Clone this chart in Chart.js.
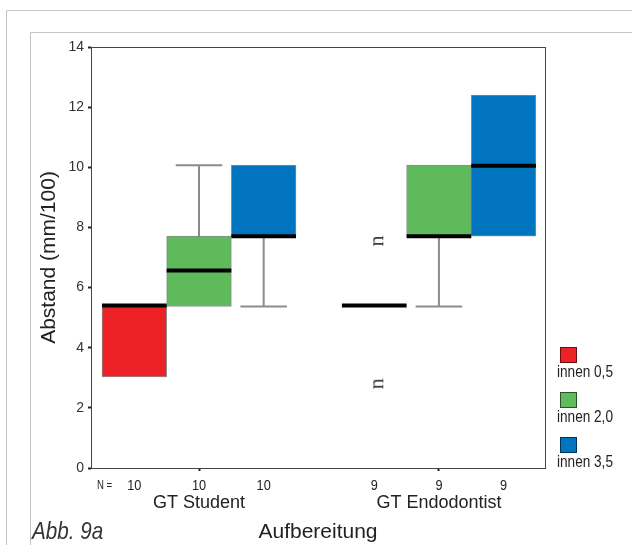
<!DOCTYPE html>
<html>
<head>
<meta charset="utf-8">
<script src="https://cdn.jsdelivr.net/npm/chart.js@4.4.1/dist/chart.umd.min.js"></script>
<style>
body { margin: 0; background: #fff; }
canvas { display: block; }
</style>
</head>
<body>
<canvas id="chart" width="632" height="545"></canvas>
<script>
// data
var groups = ['GT Student', 'GT Endodontist'];
var series = ['innen 0,5', 'innen 2,0', 'innen 3,5'];
var colors = ['#ED2226', '#5EBA5A', '#0074BF'];
var counts = [[10, 10, 10], [9, 9, 9]];           // per group, per series
var q1      = [[3.03, 5.4], [5.37, 7.71], [7.71, 7.71]];   // per series, per group
var q3      = [[5.4, 5.4], [7.71, 10.07], [10.07, 12.4]];
var median  = [[5.4, 5.4], [6.57, 7.71], [7.71, 10.05]];
var whiskLo = [[3.03, 5.4], [5.37, 5.37], [5.37, 7.71]];
var whiskHi = [[5.4, 5.4], [10.07, 10.07], [10.07, 12.4]];
var outlierGroup = [1, 1];
var outlierSeries = [0, 0];
var outlierValues = [7.55, 2.8];
var yTicks = [0, 2, 4, 6, 8, 10, 12, 14];

var SANS = "'Liberation Sans', Arial, sans-serif";
var GROUP_STEP = 3.71;

function pos(g, s) { return g * GROUP_STEP + s; }
function groupCenter(g) { return pos(g, (series.length - 1) / 2); }

// condensed text: Liberation Sans squeezed horizontally
function narrowText(ctx, text, x, y, font, squeeze, align) {
  ctx.save();
  ctx.font = font;
  ctx.textAlign = align || 'left';
  ctx.translate(x, y);
  ctx.scale(squeeze, 1);
  ctx.fillText(text, 0, 0);
  ctx.restore();
}

function outlierGlyph() {
  var c = document.createElement('canvas');
  c.width = 28; c.height = 20;
  var g = c.getContext('2d');
  g.translate(18, 10);
  g.rotate(-Math.PI / 2);
  g.font = "22px 'Liberation Serif', 'DejaVu Serif', serif";
  g.fillStyle = '#3a3a3a';
  g.textAlign = 'center';
  g.textBaseline = 'alphabetic';
  g.fillText('n', 0, 5);
  return c;
}

var datasets = series.map(function (name, s) {
  return {
    type: 'bar',
    label: name,
    data: groups.map(function (gName, g) {
      return { x: pos(g, s), y: [q1[s][g], q3[s][g]] };
    }),
    backgroundColor: colors[s],
    borderColor: 'rgba(0,0,0,0.45)',
    borderWidth: 1,
    borderSkipped: false,
    grouped: false,
    barPercentage: 1,
    categoryPercentage: 1
  };
});
datasets.push({
  type: 'scatter',
  label: 'Ausreißer',
  data: outlierValues.map(function (v, i) {
    return { x: pos(outlierGroup[i], outlierSeries[i]), y: v };
  }),
  pointStyle: outlierGlyph(),
  pointRadius: 6,
  showLine: false
});

var boxPlot = {
  id: 'boxplot',
  beforeDraw: function (chart) {
    var ctx = chart.ctx;
    ctx.save();
    ctx.strokeStyle = '#c4c4c4';
    ctx.lineWidth = 1;
    ctx.beginPath();
    ctx.moveTo(6.5, 545); ctx.lineTo(6.5, 10.5); ctx.lineTo(632, 10.5);
    ctx.moveTo(30.5, 545); ctx.lineTo(30.5, 32.5); ctx.lineTo(632, 32.5);
    ctx.stroke();
    ctx.restore();
  },
  beforeDatasetsDraw: function (chart) {
    var ctx = chart.ctx, y = chart.scales.y;
    ctx.save();
    ctx.strokeStyle = '#8c8c8c';
    ctx.lineWidth = 2;
    series.forEach(function (name, s) {
      chart.getDatasetMeta(s).data.forEach(function (bar, g) {
        var cap = bar.width * 0.36;
        [[q3[s][g], whiskHi[s][g]], [q1[s][g], whiskLo[s][g]]].forEach(function (w) {
          if (w[0] === w[1]) return;
          ctx.beginPath();
          ctx.moveTo(bar.x, y.getPixelForValue(w[0]));
          ctx.lineTo(bar.x, y.getPixelForValue(w[1]));
          ctx.moveTo(bar.x - cap, y.getPixelForValue(w[1]));
          ctx.lineTo(bar.x + cap, y.getPixelForValue(w[1]));
          ctx.stroke();
        });
      });
    });
    ctx.restore();
  },
  afterDatasetsDraw: function (chart) {
    var ctx = chart.ctx, y = chart.scales.y;
    ctx.save();
    ctx.strokeStyle = '#000';
    ctx.lineWidth = 4;
    series.forEach(function (name, s) {
      chart.getDatasetMeta(s).data.forEach(function (bar, g) {
        var py = y.getPixelForValue(median[s][g]);
        ctx.beginPath();
        ctx.moveTo(bar.x - bar.width / 2, py);
        ctx.lineTo(bar.x + bar.width / 2, py);
        ctx.stroke();
      });
    });
    ctx.restore();
  },
  afterDraw: function (chart) {
    var ctx = chart.ctx, a = chart.chartArea, x = chart.scales.x;
    ctx.save();
    // plot frame
    ctx.strokeStyle = '#444';
    ctx.lineWidth = 1;
    ctx.strokeRect(a.left + 0.5, a.top + 0.5, a.right - a.left, a.bottom - a.top);

    // N row
    ctx.fillStyle = '#222';
    ctx.textBaseline = 'middle';
    narrowText(ctx, 'N =', a.left + 6, a.bottom + 18, '12px ' + SANS, 0.8, 'left');
    groups.forEach(function (gName, g) {
      series.forEach(function (name, s) {
        narrowText(ctx, String(counts[g][s]), x.getPixelForValue(pos(g, s)), a.bottom + 18,
          '15px ' + SANS, 0.85, 'center');
      });
    });

    // legend: swatch above label
    series.forEach(function (name, s) {
      var top = a.bottom - 121 + s * 45;
      ctx.fillStyle = colors[s];
      ctx.fillRect(a.right + 15, top, 17, 16);
      ctx.strokeStyle = 'rgba(0,0,0,0.55)';
      ctx.strokeRect(a.right + 15.5, top + 0.5, 16, 15);
      ctx.fillStyle = '#222';
      narrowText(ctx, name, a.right + 12, top + 26, '16px ' + SANS, 0.85, 'left');
    });

    // figure caption
    ctx.fillStyle = '#333';
    ctx.textBaseline = 'alphabetic';
    narrowText(ctx, 'Abb. 9a', 32, 539, 'italic 24px ' + SANS, 0.86, 'left');
    ctx.restore();
  }
};

var ctx = document.getElementById('chart').getContext('2d');
window.boxChart = new Chart(ctx, {
  type: 'bar',
  data: { datasets: datasets },
  options: {
    responsive: false,
    animation: false,
    layout: { padding: { left: 29, right: 87, top: 47, bottom: 0 } },
    plugins: { legend: { display: false }, tooltip: { enabled: false } },
    scales: {
      x: {
        type: 'linear',
        offset: false,
        min: -0.67,
        max: 6.35,
        afterBuildTicks: function (scale) {
          scale.ticks = groups.map(function (gName, g) { return { value: groupCenter(g) }; });
        },
        afterFit: function (scale) { scale.height = 77; },
        ticks: {
          autoSkip: false,
          maxRotation: 0,
          padding: 0,
          color: '#222',
          font: { family: SANS, size: 18 },
          callback: function (v, i) { return ['', groups[i]]; }
        },
        grid: { offset: false, drawOnChartArea: false, drawTicks: true, tickLength: 3, tickWidth: 2, tickColor: '#222' },
        border: { color: '#444', width: 1 },
        title: {
          display: true,
          text: 'Aufbereitung',
          color: '#222',
          font: { family: SANS, size: 21 },
          padding: { top: 0, bottom: 0 }
        }
      },
      y: {
        min: 0,
        max: 14,
        afterBuildTicks: function (scale) {
          scale.ticks = yTicks.map(function (v) { return { value: v }; });
        },
        afterFit: function (scale) { scale.width = 62; },
        ticks: { color: '#333', padding: 4, font: { family: SANS, size: 14 } },
        grid: { drawOnChartArea: false, drawTicks: true, tickLength: 3, tickWidth: 2, tickColor: '#222' },
        border: { color: '#444', width: 1 },
        title: {
          display: true,
          text: 'Abstand (mm/100)',
          color: '#222',
          font: { family: SANS, size: 21 },
          padding: { top: 8, bottom: 0 }
        }
      }
    }
  },
  plugins: [boxPlot]
});
</script>
</body>
</html>
